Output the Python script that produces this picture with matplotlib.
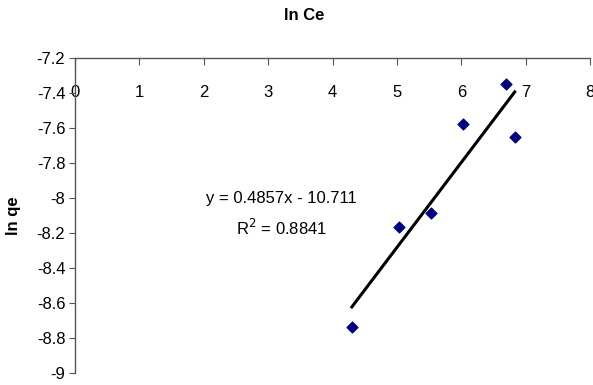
import matplotlib
matplotlib.use("Agg")
import matplotlib.pyplot as plt
import numpy as np

plt.rcParams['font.family'] = ['Liberation Sans', 'DejaVu Sans']

ln_ce = [4.30, 5.03, 5.53, 6.02, 6.69, 6.83]
ln_qe = [-8.74, -8.166, -8.086, -7.577, -7.349, -7.65]
slope, intercept = 0.4857, -10.711
x_ticks = [0, 1, 2, 3, 4, 5, 6, 7, 8]
y_ticks = [-9, -8.8, -8.6, -8.4, -8.2, -8, -7.8, -7.6, -7.4, -7.2]
y_labels = ["-9", "-8.8", "-8.6", "-8.4", "-8.2", "-8", "-7.8", "-7.6", "-7.4", "-7.2"]

fig = plt.figure(figsize=(5.93, 3.85), dpi=100)
ax = fig.add_axes([0.1265, 0.0312, 0.8685, 0.818])

ax.scatter(ln_ce, ln_qe, marker='D', s=30, color='#000080', zorder=3)
xs = np.array([min(ln_ce), max(ln_ce)])
ax.plot(xs, slope * xs + intercept, color='black', lw=2.2, zorder=2)

ax.set_xlim(0, 8)
ax.set_ylim(-9, -7.2)
ax.set_xticks(x_ticks)
ax.set_xticklabels([str(t) for t in x_ticks])
ax.set_yticks(y_ticks)
ax.set_yticklabels(y_labels)

for s in ['right', 'bottom']:
    ax.spines[s].set_visible(False)
for s in ['left', 'top']:
    ax.spines[s].set_color('#555555')
    ax.spines[s].set_linewidth(1.0)

ax.tick_params(axis='x', top=True, bottom=False, labeltop=True, labelbottom=False,
               direction='in', length=5, pad=-30, labelsize=12, color='#555555')
ax.tick_params(axis='y', direction='out', length=4, labelsize=12, color='#555555', pad=3)

fig.text(0.513, 0.96, 'ln Ce', ha='center', va='center', fontsize=12, fontweight='bold')
fig.text(0.023, 0.44, 'ln qe', ha='center', va='center', rotation=90, fontsize=12, fontweight='bold')

ax.text(3.2, -8.0, 'y = 0.4857x - 10.711', ha='center', va='center', fontsize=12)
ax.text(3.2, -8.171, 'R$^2$ = 0.8841', ha='center', va='center', fontsize=12)

fig.savefig('out.png', dpi=100)
